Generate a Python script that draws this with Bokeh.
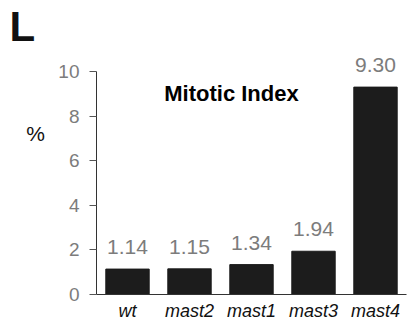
from bokeh.plotting import figure
from bokeh.layouts import row
from bokeh.models import ColumnDataSource, Label, Range1d, FactorRange
from bokeh.core.properties import value
from bokeh.embed import file_html
from bokeh.resources import INLINE

categories = ["wt", "mast2", "mast1", "mast3", "mast4"]
values = [1.14, 1.15, 1.34, 1.94, 9.30]
value_labels = ["1.14", "1.15", "1.34", "1.94", "9.30"]
y_ticks = [0, 2, 4, 6, 8, 10]

src = ColumnDataSource(dict(cat=categories, val=values, lab=value_labels))

FRAME_TOP = 5
FRAME_H = 289
p = figure(frame_width=310, frame_height=FRAME_H, output_backend="svg", toolbar_location=None,
           x_range=FactorRange(*categories, range_padding=0),
           y_range=Range1d(0, 12.96),
           min_border_left=40, min_border_right=4, min_border_top=FRAME_TOP, min_border_bottom=28,
           background_fill_color="white", border_fill_color="white")
p.outline_line_color = None
p.grid.grid_line_color = None

p.vbar(x="cat", top="val", width=0.7, source=src, fill_color="#1c1c1c", line_color="#1c1c1c")
p.text(x="cat", y="val", text="lab", source=src, text_align="center", text_baseline="alphabetic",
       y_offset=-22, text_font=value("Liberation Sans"), text_font_size="21px", text_color="#7c7c7c")

p.yaxis.ticker = y_ticks
p.yaxis.bounds = (0, 10)
p.yaxis.minor_tick_line_color = None
p.yaxis.major_tick_out = 7
p.yaxis.major_tick_in = 0
p.yaxis.axis_line_color = "#333333"
p.yaxis.major_tick_line_color = "#555555"
p.yaxis.major_label_text_font = "Liberation Sans"
p.yaxis.major_label_text_font_size = "19px"
p.yaxis.major_label_text_color = "#7c7c7c"
p.yaxis.major_label_standoff = 10

p.xaxis.axis_line_color = "#333333"
p.xaxis.major_tick_line_color = None
p.xaxis.major_tick_out = 0
p.xaxis.major_tick_in = 0
p.xaxis.major_label_text_font = "Liberation Sans"
p.xaxis.major_label_text_font_style = "italic"
p.xaxis.major_label_text_font_size = "18px"
p.xaxis.major_label_text_color = "#111111"
p.xaxis.major_label_standoff = 6

p.add_layout(Label(x=2.177, y=9.02, text="Mitotic Index", text_align="center", text_baseline="alphabetic",
                   text_font="Liberation Sans", text_font_style="bold", text_font_size="22px",
                   text_color="#000000"))

side = figure(frame_width=55, frame_height=FRAME_H, output_backend="svg", toolbar_location=None,
              x_range=Range1d(0, 55), y_range=Range1d(FRAME_TOP + FRAME_H, FRAME_TOP),
              x_axis_location=None, y_axis_location=None,
              min_border_left=0, min_border_right=0, min_border_top=FRAME_TOP, min_border_bottom=28,
              background_fill_color="white", border_fill_color="white")
side.outline_line_color = None
side.grid.grid_line_color = None
side.text(x=[35], y=[132.5], text=["%"], text_align="center", text_baseline="middle",
          text_font=value("Liberation Sans"), text_font_size="21px", text_color="#111111")
side.text(x=[9], y=[26], text=["L"], text_align="left", text_baseline="alphabetic",
          text_font=value("Liberation Sans"), text_font_style="bold", text_font_size="42px",
          text_color="#111111")

layout = row(side, p, spacing=0)
open("out.html", "w").write(file_html(layout, INLINE))
